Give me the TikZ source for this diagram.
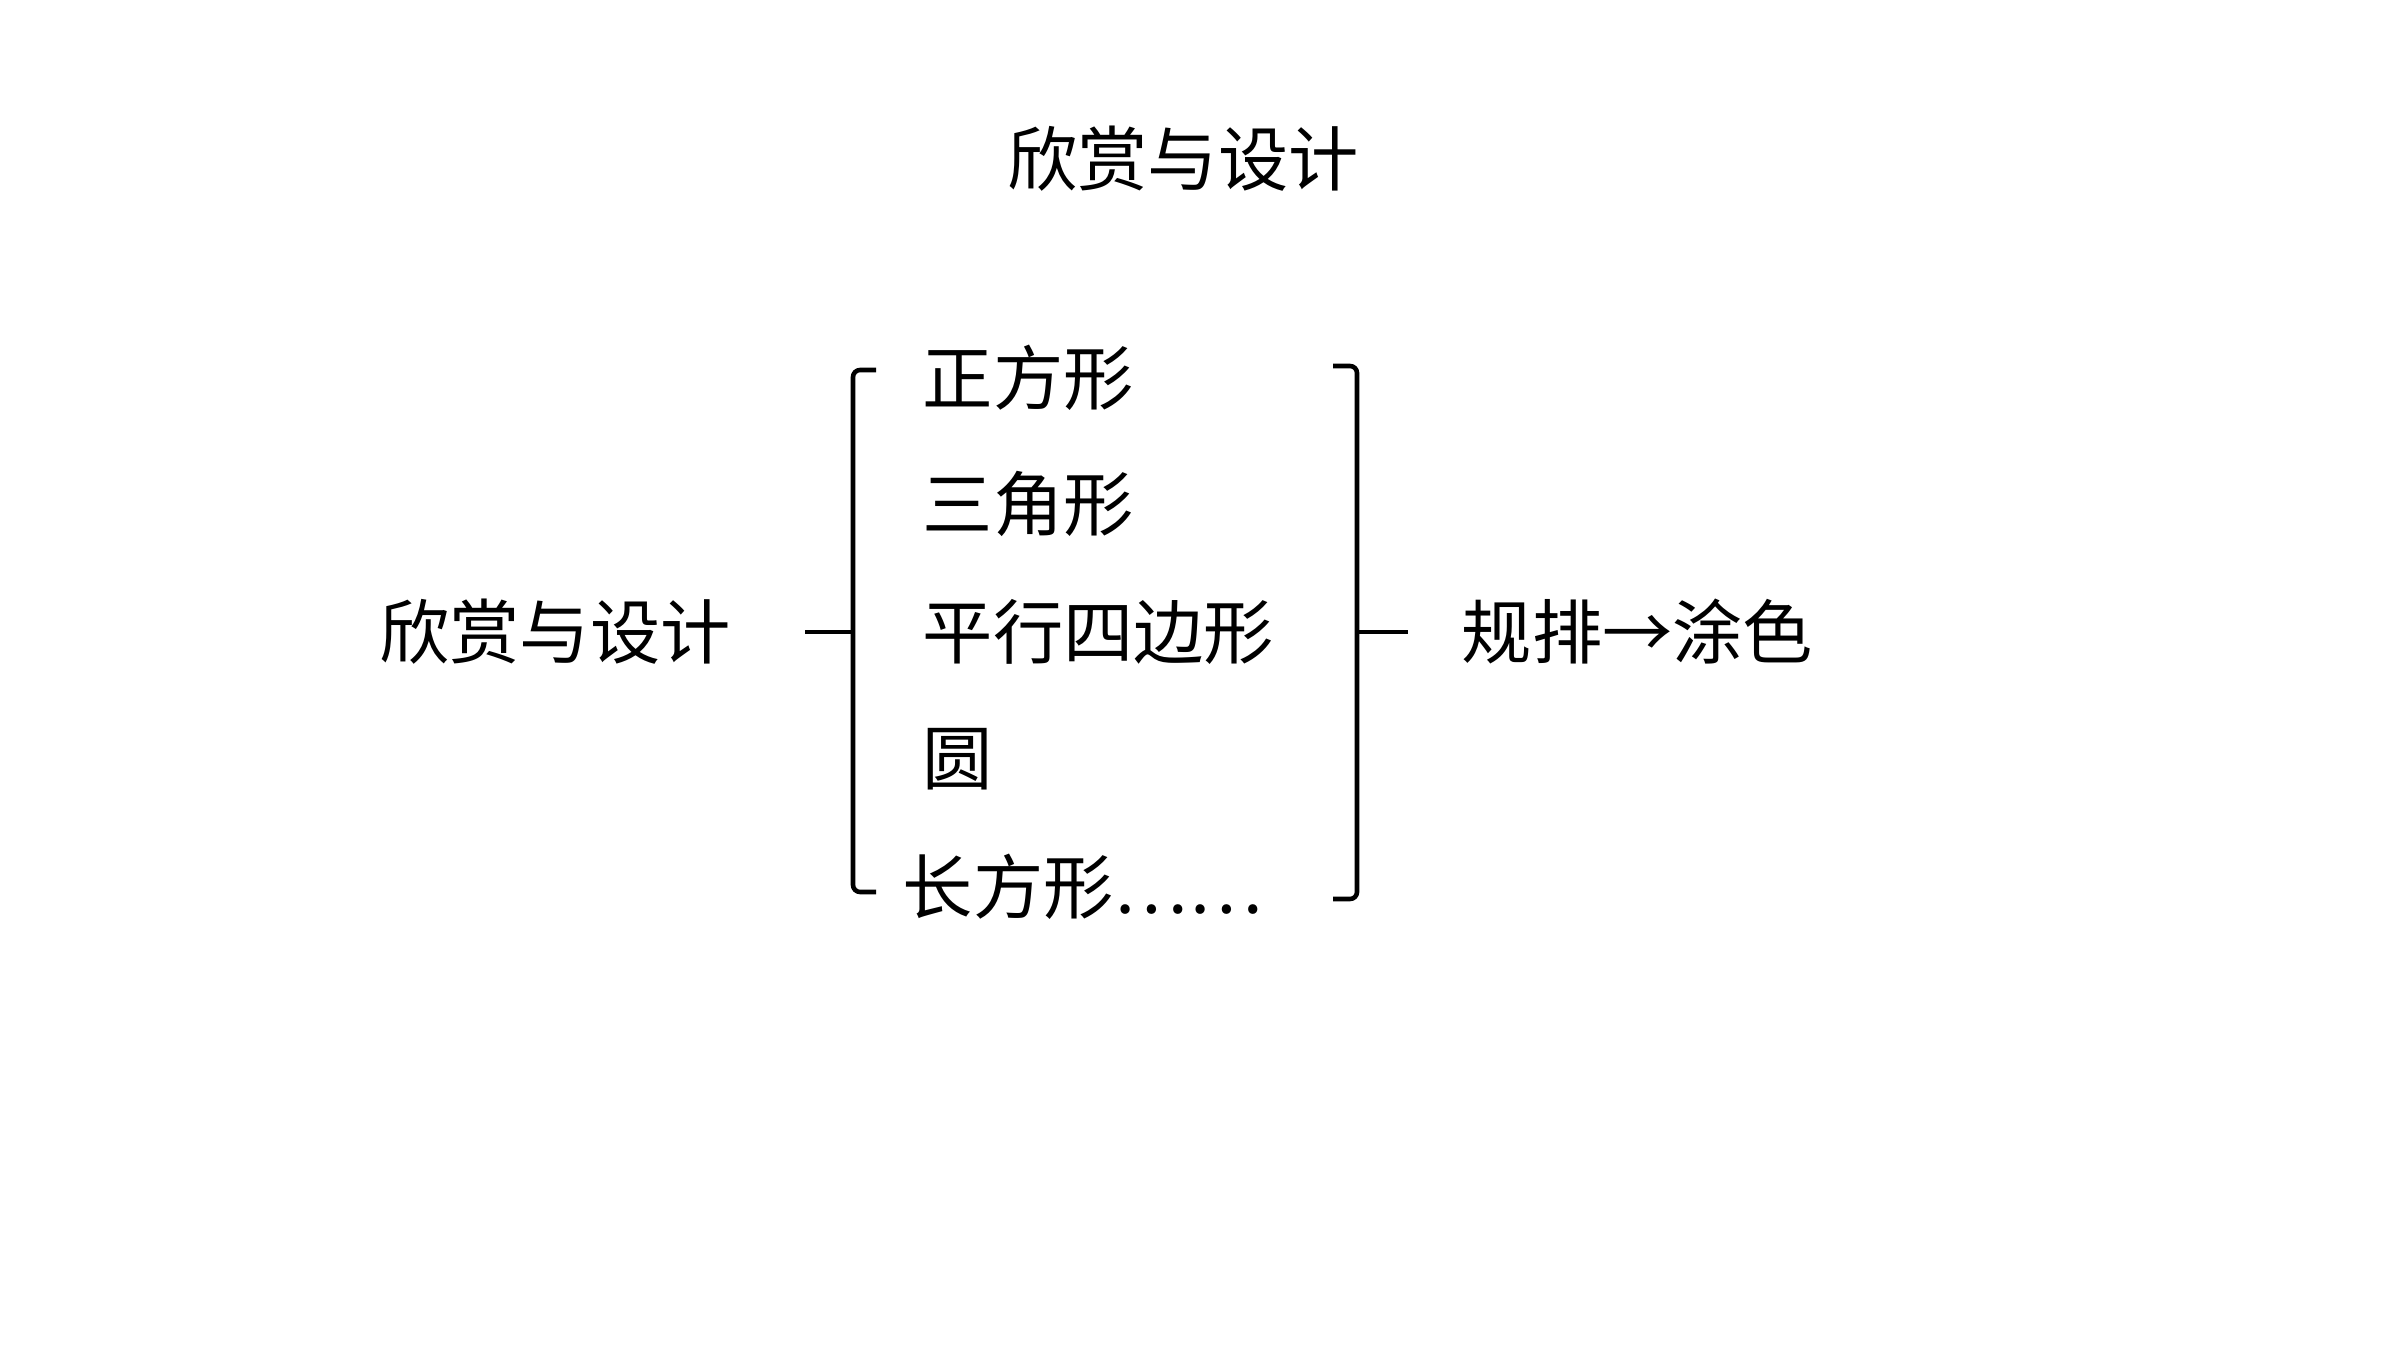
\documentclass[tikz,border=0pt]{standalone}
\usepackage{fontspec}
\setmainfont{Noto Sans CJK SC}
\usetikzlibrary{positioning}
\begin{document}
\begin{tikzpicture}[item/.style={anchor=west,inner sep=0pt,font=\fontsize{20}{24}\selectfont},
  brace/.style={line width=1.3pt,rounded corners=2pt}]
\useasboundingbox (0,0) rectangle (24,13.5);
\node[inner sep=0pt,font=\fontsize{20}{24}\selectfont](title) at (11.83,11.91){欣赏与设计};
\node[inner sep=0pt,font=\fontsize{20}{24}\selectfont](main) at (5.55,7.18){欣赏与设计};
\node[item](sq) at (9.22,9.72){正方形};
\node[item](tri) at (9.22,8.46){三角形};
\node[item](para) at (9.22,7.18){平行四边形};
\node[item](circ) at (9.22,5.91){圆};
\node[item](rect) at (9.02,4.63){长方形……};
\node[item](res) at (14.61,7.18){规排→涂色};
% left brace
\coordinate (lt) at (8.76,9.80);
\coordinate (lb) at (8.76,4.58);
\coordinate (lm) at (8.05,7.18);
\draw[brace] (lt) -- (8.53,9.80) -- (8.53,4.58) -- (lb);
\draw[brace] (lm) -- (8.53,7.18);
% right brace
\coordinate (rt) at (13.33,9.84);
\coordinate (rb) at (13.33,4.51);
\coordinate (rm) at (14.08,7.18);
\draw[brace] (rt) -- (13.57,9.84) -- (13.57,4.51) -- (rb);
\draw[brace] (13.57,7.18) -- (rm);
\end{tikzpicture}
\end{document}
